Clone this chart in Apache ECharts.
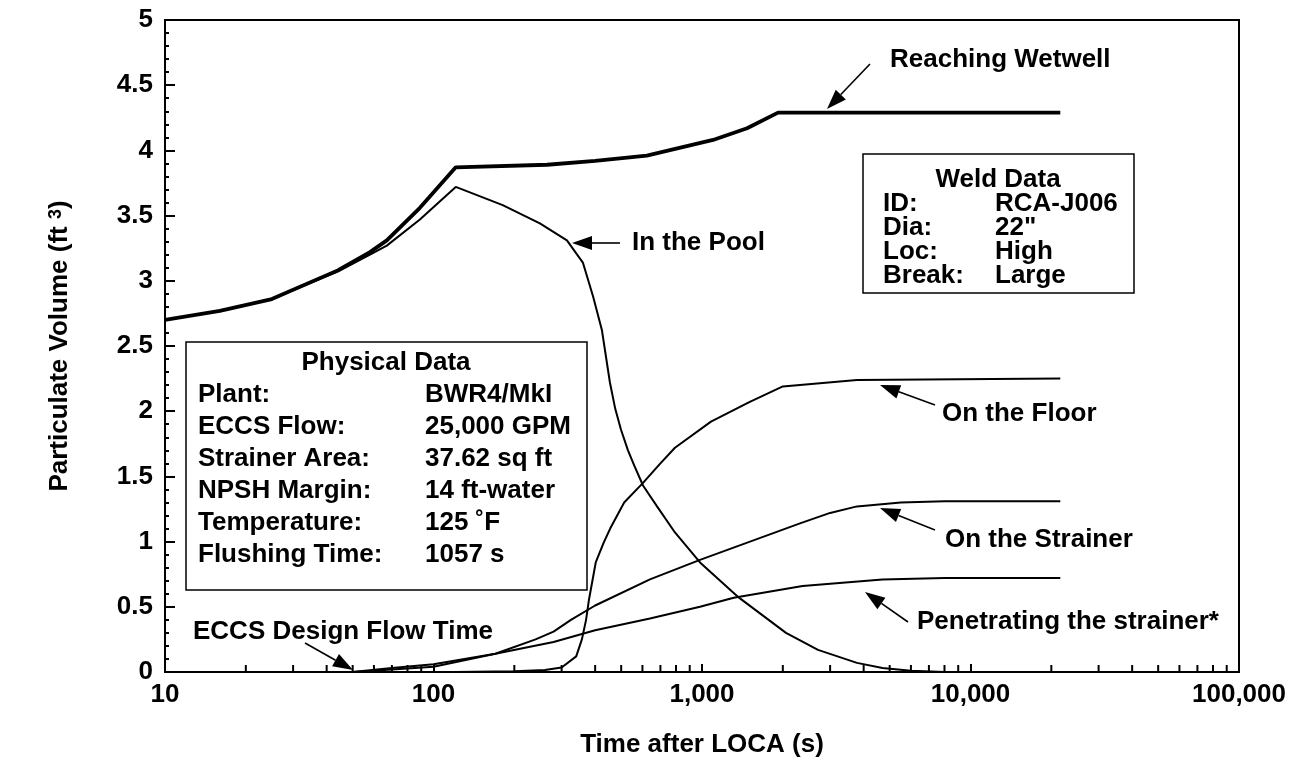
<!DOCTYPE html>
<html><head><meta charset="utf-8">
<script src="https://cdn.jsdelivr.net/npm/echarts@6/dist/echarts.min.js"></script>
<style>html,body{margin:0;padding:0;background:#fff}#chart{width:1302px;height:770px}</style>
</head><body><div id="chart"></div>
<script>
// ---- data (time in s, volume in ft^3) ----
const xTickLabels = {10:'10',100:'100',1000:'1,000',10000:'10,000',100000:'100,000'};
const totalT = [10, 16, 25, 44, 58, 67, 89, 121, 265, 400, 623, 1099, 1472, 1920, 21600];
const totalV = [2.70, 2.77, 2.86, 3.08, 3.22, 3.31, 3.56, 3.87, 3.89, 3.92, 3.96, 4.08, 4.17, 4.29, 4.29];
const poolT = [10, 16, 25, 44, 58, 67, 89, 121, 181, 249, 314, 360, 393, 424, 454, 475, 499, 530, 560, 603, 680, 793, 983, 1373, 2055, 2704, 3778, 4700, 6000, 8000, 21600];
const poolV = [2.70, 2.77, 2.86, 3.07, 3.20, 3.27, 3.47, 3.72, 3.58, 3.44, 3.31, 3.14, 2.88, 2.62, 2.22, 2.02, 1.86, 1.70, 1.58, 1.43, 1.27, 1.07, 0.84, 0.57, 0.30, 0.17, 0.07, 0.03, 0.01, 0.0, 0.0];
const floorT = [10, 120, 200, 260, 300, 340, 357, 370, 379, 402, 430, 455, 513, 603, 700, 793, 1080, 1500, 2000, 3778, 21600];
const floorV = [0, 0, 0.005, 0.015, 0.035, 0.12, 0.25, 0.40, 0.55, 0.84, 0.99, 1.10, 1.30, 1.45, 1.60, 1.72, 1.92, 2.07, 2.19, 2.24, 2.25];
const strainerT = [10, 50, 70, 100, 170, 240, 280, 325, 400, 640, 983, 2317, 3000, 3778, 5500, 8000, 21600];
const strainerV = [0, 0, 0.02, 0.04, 0.14, 0.25, 0.31, 0.40, 0.51, 0.71, 0.86, 1.14, 1.22, 1.27, 1.30, 1.31, 1.31];
const penetT = [10, 50, 70, 100, 170, 280, 400, 640, 983, 1313, 2370, 4700, 8000, 21600];
const penetV = [0, 0, 0.03, 0.06, 0.14, 0.23, 0.32, 0.41, 0.50, 0.57, 0.66, 0.71, 0.72, 0.72];
const xMinorTicks = [];
[10, 100, 1000, 10000].forEach(d => { for (let k = 2; k <= 9; k++) xMinorTicks.push(k * d); });

const FONT = '"Liberation Sans", Arial, Helvetica, sans-serif';
const FS = 26;
const pair = (t, v) => t.map((x, i) => [x, v[i]]);

function arrow(x1, y1, x2, y2, hl, hw) {
  const dx = x2 - x1, dy = y2 - y1, L = Math.hypot(dx, dy), ux = dx / L, uy = dy / L;
  const bx = x2 - ux * hl, by = y2 - uy * hl, px = -uy * hw, py = ux * hw;
  return [
    {type: 'line', z: 100, shape: {x1, y1, x2: bx, y2: by}, style: {stroke: '#000', lineWidth: 1.6}},
    {type: 'polygon', z: 100, shape: {points: [[x2, y2], [bx + px, by + py], [bx - px, by - py]]}, style: {fill: '#000'}}
  ];
}
function txt(text, x, y, align) {
  return {type: 'text', z: 100, x, y, style: {text, fill: '#000', font: 'bold ' + FS + 'px ' + FONT, align: align || 'left', verticalAlign: 'middle'}};
}

const lineSeries = (name, data, w) => ({
  name, type: 'line', data, showSymbol: false, symbol: 'none', smooth: false,
  lineStyle: {color: '#000', width: w}, z: 3, animation: false
});

const graphics = [];
// Physical data box
graphics.push({type: 'rect', z: 90, shape: {x: 186, y: 342, width: 401, height: 248}, style: {fill: '#fff', stroke: '#000', lineWidth: 1.5}});
graphics.push(txt('Physical Data', 386, 363, 'center'));
const physL = ['Plant:', 'ECCS Flow:', 'Strainer Area:', 'NPSH Margin:', 'Temperature:', 'Flushing Time:'];
const physV = ['BWR4/MkI', '25,000 GPM', '37.62 sq ft', '14 ft-water', '125 \u02DAF', '1057 s'];
physL.forEach((l, i) => { graphics.push(txt(l, 198, 395 + i * 32)); graphics.push(txt(physV[i], 425, 395 + i * 32)); });
// Weld data box
graphics.push({type: 'rect', z: 90, shape: {x: 863, y: 154, width: 271, height: 139}, style: {fill: '#fff', stroke: '#000', lineWidth: 1.5}});
graphics.push(txt('Weld Data', 998, 180, 'center'));
const weldL = ['ID:', 'Dia:', 'Loc:', 'Break:'];
const weldV = ['RCA-J006', '22"', 'High', 'Large'];
weldL.forEach((l, i) => { graphics.push(txt(l, 883, 204 + i * 24)); graphics.push(txt(weldV[i], 995, 204 + i * 24)); });
// annotations
graphics.push(txt('Reaching Wetwell', 890, 60));
graphics.push(...arrow(870, 64, 827, 109, 20, 7));
graphics.push(txt('In the Pool', 632, 243));
graphics.push(...arrow(620, 243, 572, 243, 20, 7));
graphics.push(txt('On the Floor', 942, 414));
graphics.push(...arrow(935, 405, 880, 385, 20, 7));
graphics.push(txt('On the Strainer', 945, 540));
graphics.push(...arrow(935, 530, 880, 508, 20, 7));
graphics.push(txt('Penetrating the strainer*', 917, 622));
graphics.push(...arrow(908, 622, 865, 592, 20, 7));
graphics.push(txt('ECCS Design Flow Time', 193, 632));
graphics.push(...arrow(305, 643, 353, 670, 20, 7));

const chart = echarts.init(document.getElementById('chart'), null, {renderer: 'canvas'});
chart.setOption({
  animation: false,
  backgroundColor: '#fff',
  grid: {left: 165, right: 63, top: 20, bottom: 98, show: true, borderColor: '#000', borderWidth: 2, containLabel: false},
  xAxis: {
    type: 'log', logBase: 10, min: 10, max: 100000,
    axisLine: {lineStyle: {color: '#000', width: 2}},
    axisTick: {inside: true, length: 8, lineStyle: {color: '#000', width: 2}},
    axisLabel: {color: '#000', fontFamily: FONT, fontWeight: 'bold', fontSize: FS, margin: 10,
      formatter: v => xTickLabels[Math.round(v)] || ''},
    splitLine: {show: false},
    name: 'Time after LOCA (s)', nameLocation: 'middle', nameGap: 60,
    nameTextStyle: {color: '#000', fontFamily: FONT, fontWeight: 'bold', fontSize: FS}
  },
  yAxis: {
    type: 'value', min: 0, max: 5, interval: 0.5,
    axisLine: {lineStyle: {color: '#000', width: 2}},
    axisTick: {inside: true, length: 10, lineStyle: {color: '#000', width: 2}},
    minorTick: {show: true, splitNumber: 5, length: 4, lineStyle: {color: '#000', width: 2}},
    axisLabel: {color: '#000', fontFamily: FONT, fontWeight: 'bold', fontSize: FS, margin: 12},
    splitLine: {show: false}, minorSplitLine: {show: false},
    name: 'Particulate Volume (ft {sup|3})', nameLocation: 'middle', nameRotate: 90, nameGap: 92,
    nameTextStyle: {color: '#000', fontFamily: FONT, fontWeight: 'bold', fontSize: FS,
      rich: {sup: {fontFamily: FONT, fontWeight: 'bold', fontSize: 18, verticalAlign: 'top', color: '#000', padding: [0, 0, 8, 0]}}}
  },
  series: [
    lineSeries('Reaching Wetwell', pair(totalT, totalV), 3.8),
    lineSeries('In the Pool', pair(poolT, poolV), 2),
    lineSeries('On the Floor', pair(floorT, floorV), 2),
    lineSeries('On the Strainer', pair(strainerT, strainerV), 2),
    lineSeries('Penetrating the strainer*', pair(penetT, penetV), 2),
    {
      type: 'custom', data: xMinorTicks.map(v => [v, 0]), z: 5, silent: true, clip: false,
      renderItem: (params, api) => {
        const p = api.coord([api.value(0), 0]);
        return {type: 'line', shape: {x1: p[0], y1: p[1], x2: p[0], y2: p[1] - 7}, style: {stroke: '#000', lineWidth: 2}};
      }
    }
  ],
  graphic: graphics
});
</script></body></html>
